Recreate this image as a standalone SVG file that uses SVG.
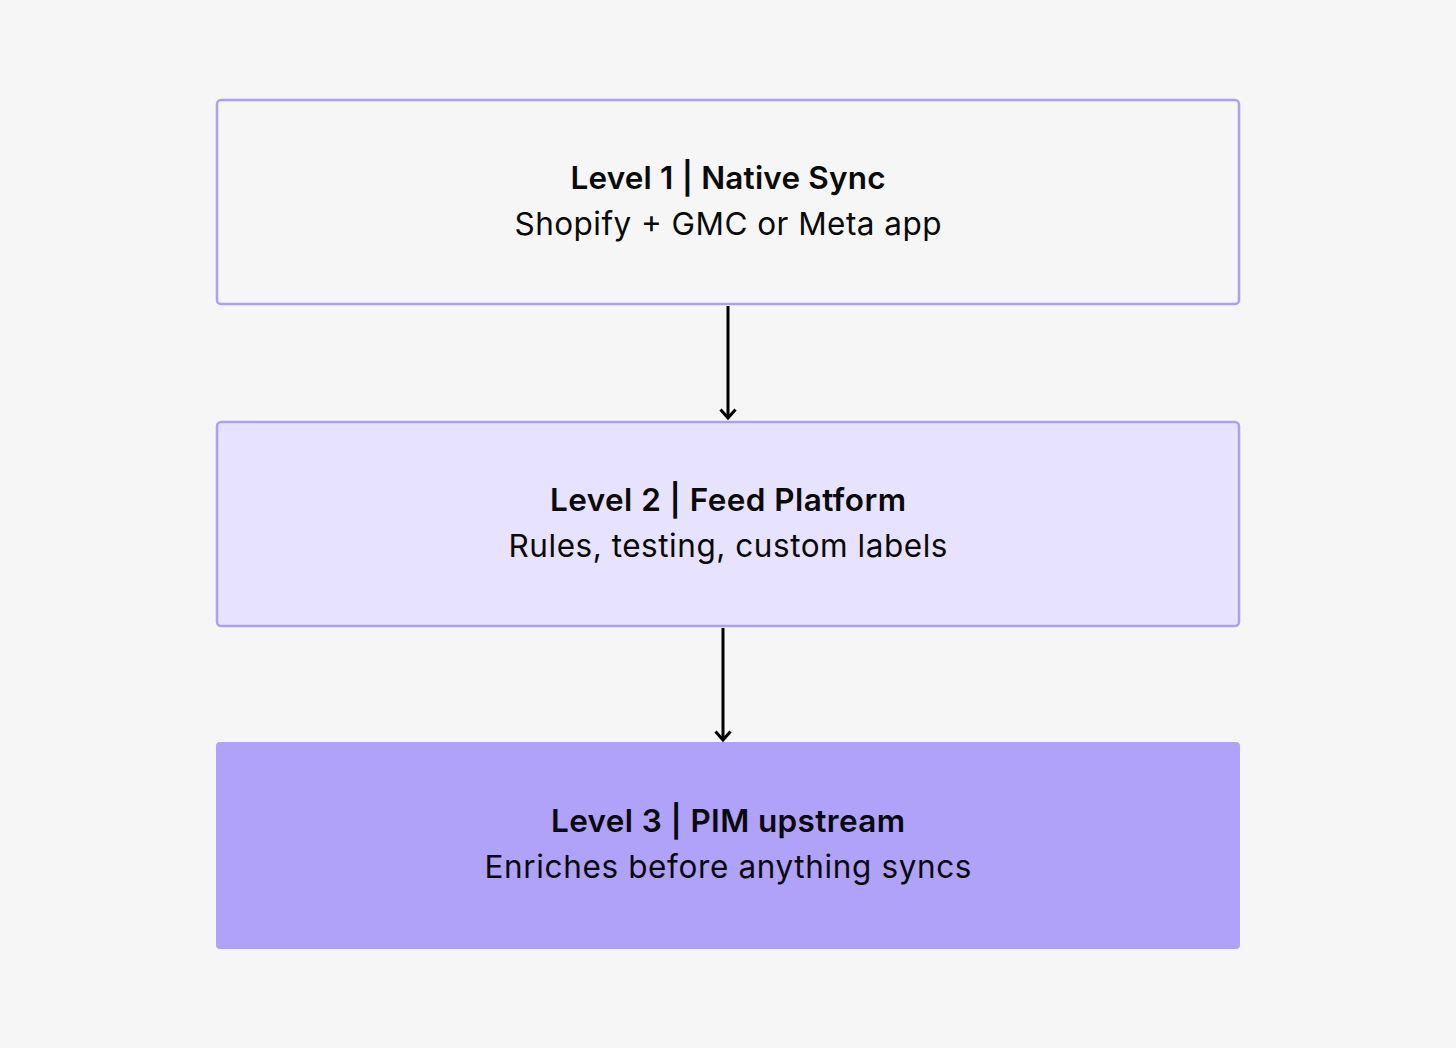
<svg xmlns="http://www.w3.org/2000/svg" width="1456" height="1048" viewBox="0 0 1456 1048">
<style>
.box{stroke:#ad9ff8;stroke-width:2.5}
.t{font-family:Inter,"Liberation Sans",sans-serif;font-size:31.5px;fill:#0a0a0a;text-anchor:middle}
.b{font-weight:600}
.c{fill:none;stroke:#000;stroke-width:3}
</style>
<rect width="1456" height="1048" fill="#f6f6f6"/>
<g id="level1">
<rect class="box" x="217" y="100" width="1022" height="204" rx="4" fill="#f6f6f6"/>
<text class="t b" x="728" y="189" textLength="315" lengthAdjust="spacing">Level 1 | Native Sync</text>
<text class="t" x="728" y="235" textLength="427" lengthAdjust="spacing">Shopify + GMC or Meta app</text>
</g>
<g id="level2">
<rect class="box" x="217" y="422" width="1022" height="204" rx="4" fill="#e7e2fe"/>
<text class="t b" x="728" y="511" textLength="356" lengthAdjust="spacing">Level 2 | Feed Platform</text>
<text class="t" x="728" y="557" textLength="439" lengthAdjust="spacing">Rules, testing, custom labels</text>
</g>
<g id="level3">
<rect x="216" y="742" width="1024" height="207" rx="4" fill="#b0a1f9"/>
<text class="t b" x="728" y="832" textLength="354" lengthAdjust="spacing">Level 3 | PIM upstream</text>
<text class="t" x="728" y="878" textLength="487" lengthAdjust="spacing">Enriches before anything syncs</text>
</g>
<g id="connectors">
<path class="c" d="M728,306 V418"/>
<path class="c" d="M720.5,409.5 L728,418 L735.5,409.5"/>
<path class="c" d="M723,628 V740"/>
<path class="c" d="M715.5,731.5 L723,740 L730.5,731.5"/>
</g>
</svg>
